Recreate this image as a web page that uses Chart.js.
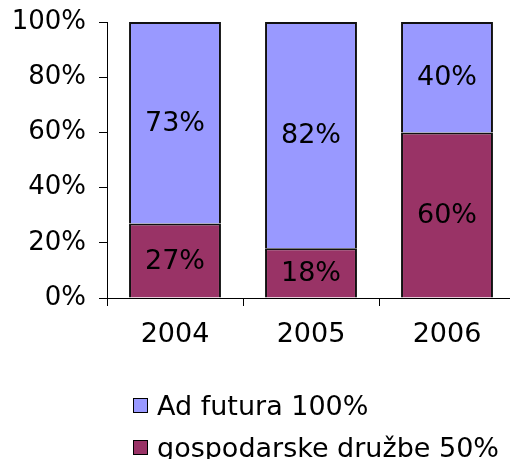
<!DOCTYPE html>
<html>
<head>
<meta charset="utf-8">
<script src="https://cdn.jsdelivr.net/npm/chart.js@4"></script>
<style>
  html, body { margin: 0; padding: 0; background: #fff; overflow: hidden; }
  #wrap { position: relative; width: 510px; height: 459px; overflow: hidden; }
  #chart { position: absolute; left: 0; top: 0; }
  .legend-item { position: absolute; left: 133px; height: 30px; display: flex; align-items: center;
    font-family: "DejaVu Sans", Verdana, sans-serif; font-size: 27px; color: #000; white-space: nowrap; }
  .legend-box { width: 15px; height: 15px; box-sizing: border-box; border: 1.5px solid #000; margin-right: 9px; }
</style>
</head>
<body>
<div id="wrap">
  <canvas id="chart" width="520" height="459"></canvas>
  <div id="legend"></div>
</div>
<script>
// chart data
const years = ["2004", "2005", "2006"];
const adFutura = [73, 82, 40];
const gospodarske = [27, 18, 60];
const seriesNames = ["Ad futura 100%", "gospodarske družbe 50%"];
const yTicks = [0, 20, 40, 60, 80, 100];

const FONT = '"DejaVu Sans", Verdana, sans-serif';

// draws the percentage in the middle of each bar segment
const barLabels = {
  id: "barLabels",
  afterDatasetsDraw(chart) {
    const ctx = chart.ctx;
    ctx.save();
    ctx.font = "27px " + FONT;
    ctx.fillStyle = "#000";
    ctx.textAlign = "center";
    ctx.textBaseline = "middle";
    chart.data.datasets.forEach((ds, i) => {
      chart.getDatasetMeta(i).data.forEach((bar, j) => {
        const p = bar.getCenterPoint();
        ctx.fillText(ds.data[j] + "%", p.x, p.y + 1);
      });
    });
    ctx.restore();
  },
};

// no extra room for half-labels, the padding below sets the plot box
const noLabelPad = (s) => {
  s.paddingTop = 0;
  s.paddingBottom = 0;
  s.paddingLeft = 0;
  s.paddingRight = 0;
};

const chart = new Chart(document.getElementById("chart"), {
  type: "bar",
  data: {
    labels: years,
    datasets: [
      {
        label: seriesNames[1],
        data: gospodarske,
        backgroundColor: "#993366",
        borderColor: "#111",
        borderWidth: 2,
      },
      {
        label: seriesNames[0],
        data: adFutura,
        backgroundColor: "#9999FF",
        borderColor: "#111",
        borderWidth: 2,
      },
    ],
  },
  options: {
    responsive: false,
    animation: false,
    layout: { padding: { top: 22, right: 5, bottom: 91, left: 0 } },
    categoryPercentage: 1,
    barPercentage: 0.676,
    plugins: {
      legend: { display: false },
      tooltip: { enabled: false },
    },
    scales: {
      x: {
        stacked: true,
        afterFit: (s) => { s.height = 70; noLabelPad(s); },
        grid: { drawOnChartArea: false, drawTicks: true, tickLength: 8, color: "#000", lineWidth: 1 },
        border: { display: true, color: "#000", width: 1 },
        ticks: { color: "#000", font: { family: FONT, size: 27 }, padding: 13 },
      },
      y: {
        stacked: true,
        min: 0,
        max: 100,
        afterFit: (s) => { s.width = 107; noLabelPad(s); },
        afterBuildTicks: (s) => { s.ticks = yTicks.map((v) => ({ value: v })); },
        grid: { drawOnChartArea: false, drawTicks: true, tickLength: 8, color: "#000", lineWidth: 1 },
        border: { display: true, color: "#000", width: 1 },
        ticks: {
          color: "#000",
          font: { family: FONT, size: 26 },
          padding: 13,
          callback: (v) => v + "%",
        },
      },
    },
  },
  plugins: [barLabels],
});

// legend listed top to bottom like the original
const legendEl = document.getElementById("legend");
const legendRows = [
  { name: seriesNames[0], color: "#9999FF", top: 390 },
  { name: seriesNames[1], color: "#993366", top: 432 },
];
legendRows.forEach((r) => {
  const item = document.createElement("div");
  item.className = "legend-item";
  item.style.top = r.top + "px";
  const box = document.createElement("span");
  box.className = "legend-box";
  box.style.background = r.color;
  const txt = document.createElement("span");
  txt.textContent = r.name;
  item.appendChild(box);
  item.appendChild(txt);
  legendEl.appendChild(item);
});
</script>
</body>
</html>
